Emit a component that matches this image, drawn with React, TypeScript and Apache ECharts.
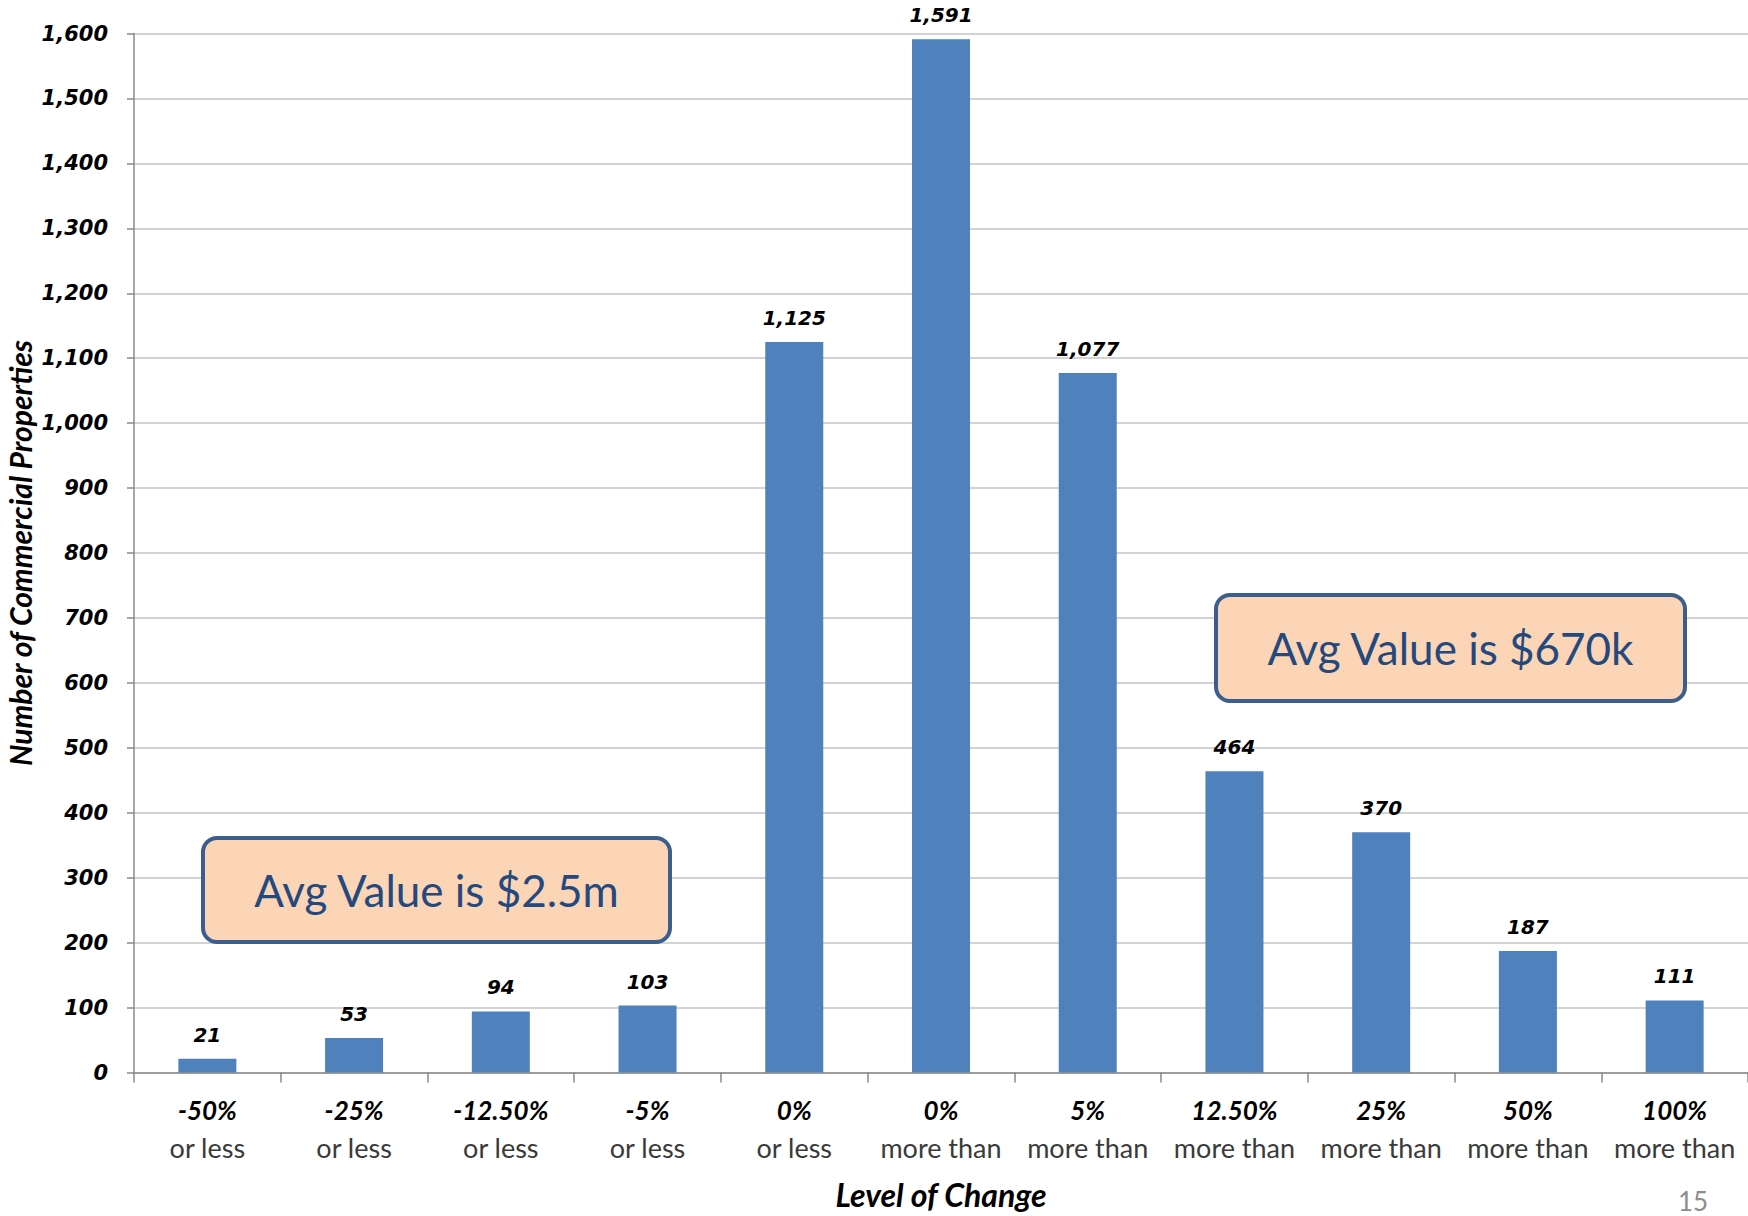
import React, { useEffect, useRef } from "react";
import * as echarts from "echarts";

// Level-of-change buckets (two-line axis labels)
const changeLevels = ["-50%", "-25%", "-12.50%", "-5%", "0%", "0%", "5%", "12.50%", "25%", "50%", "100%"];
const changeQualifiers = ["or less", "or less", "or less", "or less", "or less", "more than", "more than", "more than", "more than", "more than", "more than"];

// Number of commercial properties per bucket
const propertyCounts = [21, 53, 94, 103, 1125, 1591, 1077, 464, 370, 187, 111];

// Value-axis range
const yMin = 0;
const yMax = 1600;
const yStep = 100;

// Axis titles, callout texts, page number
const yTitle = "Number of Commercial Properties";
const xTitle = "Level of Change";
const lowCallout = "Avg Value is $2.5m";
const highCallout = "Avg Value is $670k";
const pageNumber = "15";

const BAR_BLUE = "#4F81BD";
const VERDANA_LIKE = "DejaVu Sans";
const CALIBRI_LIKE = "Lato";

const fmt = (v: number) => v.toLocaleString("en-US");

function callout(x: number, y: number, w: number, h: number, text: string) {
  return {
    type: "group",
    x,
    y,
    children: [
      {
        type: "rect",
        shape: { x: 0, y: 0, width: w, height: h, r: 14 },
        style: { fill: "#FBD5B5", stroke: "#3A5F8F", lineWidth: 4 },
        z: 10,
      },
      {
        type: "text",
        x: w / 2,
        y: h / 2,
        style: {
          text,
          fill: "#24497E",
          font: `44px ${CALIBRI_LIKE}`,
          textAlign: "center",
          textVerticalAlign: "middle",
        },
        z: 11,
      },
    ],
  };
}

export default function App() {
  const ref = useRef<HTMLDivElement>(null);

  useEffect(() => {
    if (!ref.current) return;
    const chart = echarts.init(ref.current, null, { renderer: "svg" });

    const categories = changeLevels.map((lvl, i) => `{a|${lvl}}\n{b|${changeQualifiers[i]}}`);

    chart.setOption({
      animation: false,
      backgroundColor: "#ffffff",
      grid: {
        left: 134,
        right: 0,
        top: 33.5,
        bottom: 143.5,
        containLabel: false,
        outerBoundsMode: "none",
      },
      xAxis: {
        type: "category",
        data: categories,
        name: xTitle,
        nameLocation: "middle",
        nameGap: 106,
        nameTextStyle: {
          fontFamily: CALIBRI_LIKE,
          fontWeight: "bold",
          fontStyle: "italic",
          fontSize: 32,
          color: "#000",
        },
        axisLine: { show: true, lineStyle: { color: "#8a8a8a", width: 1.5 } },
        axisTick: { show: true, length: 10, alignWithLabel: false, lineStyle: { color: "#8a8a8a", width: 1.5 } },
        axisLabel: {
          interval: 0,
          margin: 18,
          rich: {
            a: {
              fontFamily: CALIBRI_LIKE,
              fontWeight: "bold",
              fontStyle: "italic",
              fontSize: 26,
              lineHeight: 38,
              color: "#000",
            },
            b: {
              fontFamily: CALIBRI_LIKE,
              fontSize: 27,
              lineHeight: 38,
              color: "#3a3a3a",
            },
          },
        },
        splitLine: { show: false },
      },
      yAxis: {
        type: "value",
        min: yMin,
        max: yMax,
        interval: yStep,
        axisLine: { show: true, lineStyle: { color: "#8a8a8a", width: 1.5 } },
        axisTick: { show: true, length: 7, lineStyle: { color: "#8a8a8a", width: 1.5 } },
        axisLabel: {
          margin: 26,
          formatter: (v: number) => fmt(v),
          fontFamily: VERDANA_LIKE,
          fontWeight: "bold",
          fontStyle: "italic",
          fontSize: 21,
          color: "#000",
        },
        splitLine: { show: true, lineStyle: { color: "#c4c4c4", width: 1.5 } },
      },
      series: [
        {
          type: "bar",
          data: propertyCounts,
          barWidth: 58,
          itemStyle: { color: BAR_BLUE },
          label: {
            show: true,
            position: "top",
            distance: 14,
            formatter: (p: any) => fmt(p.value),
            fontFamily: VERDANA_LIKE,
            fontWeight: "bold",
            fontStyle: "italic",
            fontSize: 20,
            color: "#000",
          },
        },
      ],
      graphic: [
        {
          type: "text",
          x: 20,
          y: 553,
          rotation: Math.PI / 2,
          style: {
            text: yTitle,
            fill: "#000",
            font: `italic bold 30px ${CALIBRI_LIKE}`,
            textAlign: "center",
            textVerticalAlign: "middle",
          },
        },
        callout(203, 838, 467, 104, lowCallout),
        callout(1216, 595, 469, 106, highCallout),
        {
          type: "text",
          x: 1693,
          y: 1214,
          style: {
            text: pageNumber,
            fill: "#8c8c8c",
            font: `26px ${CALIBRI_LIKE}`,
            textAlign: "center",
            textVerticalAlign: "bottom",
          },
        },
      ],
    });

    return () => chart.dispose();
  }, []);

  return (
    <div
      ref={ref}
      style={{ position: "absolute", left: 0, top: 0, width: 1748, height: 1216, background: "#fff" }}
    />
  );
}
